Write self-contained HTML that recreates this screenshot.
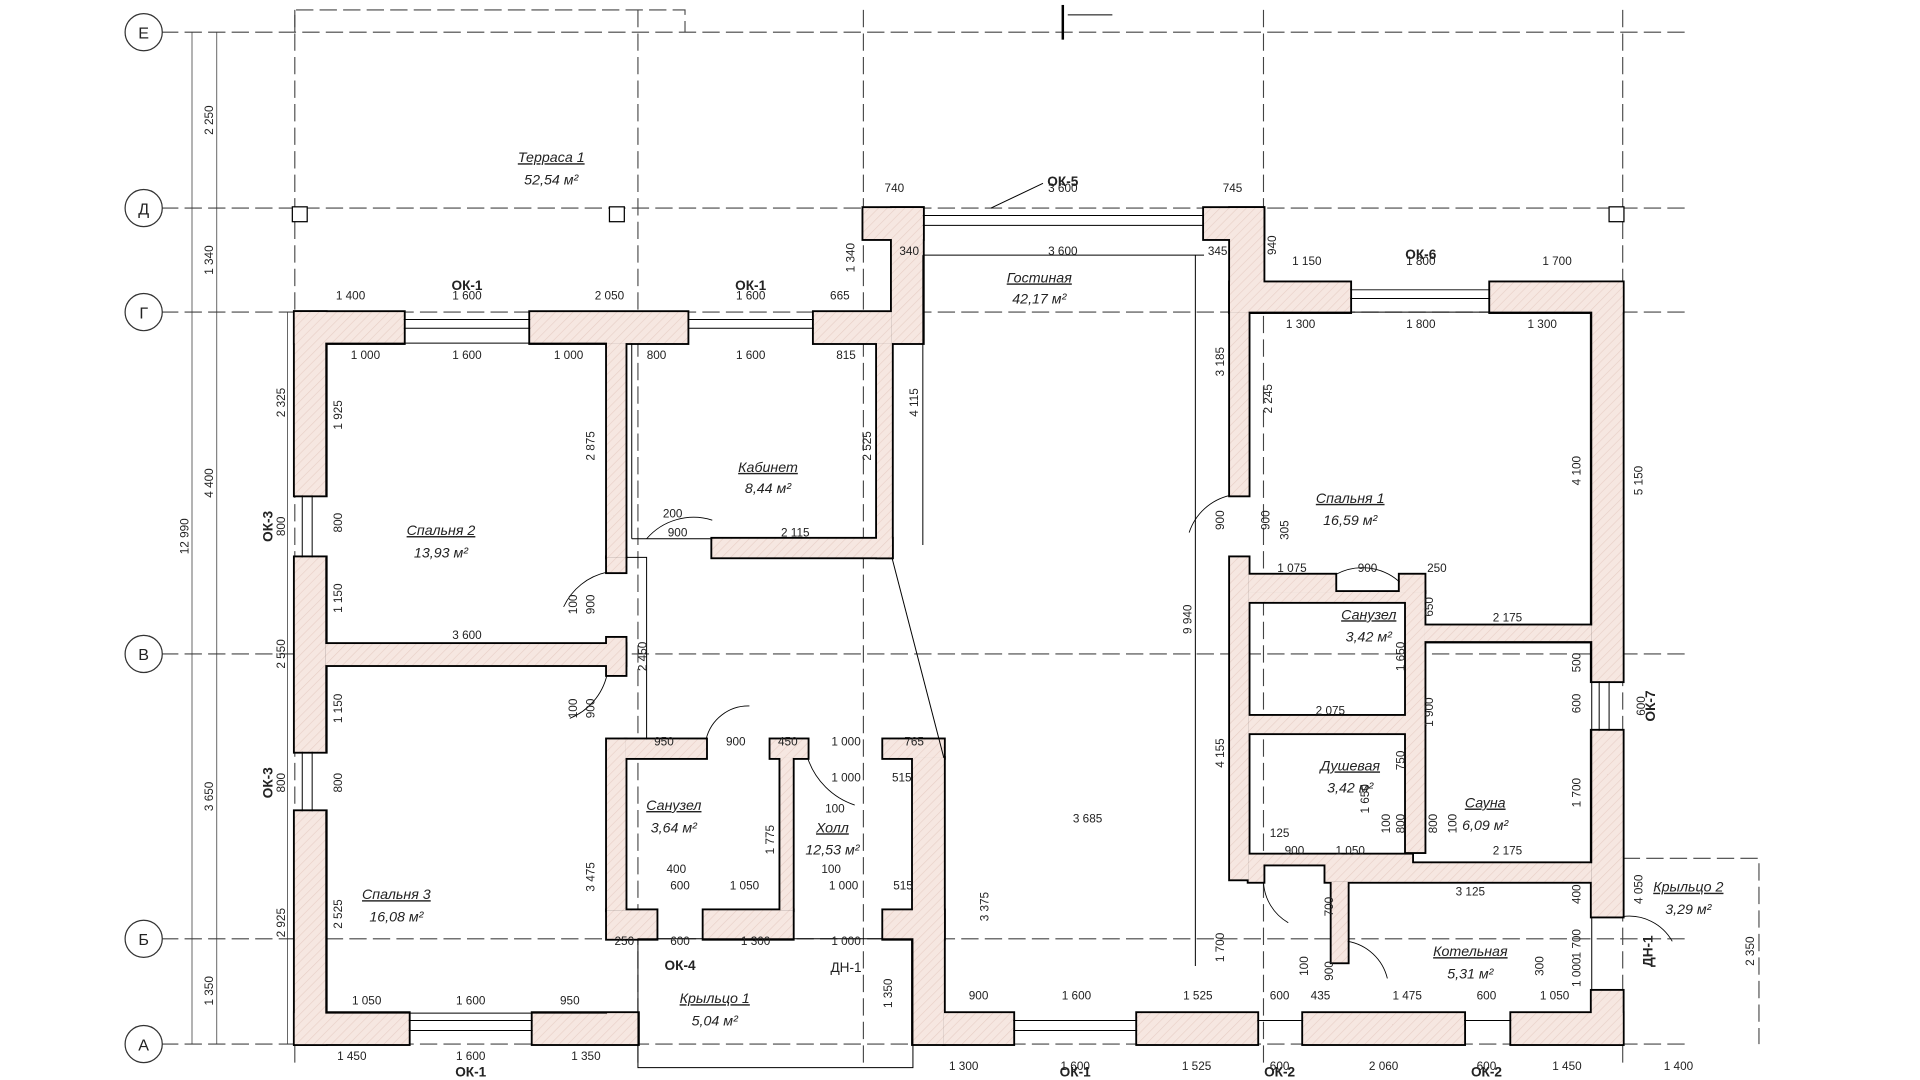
<!DOCTYPE html>
<html><head><meta charset="utf-8"><style>
html,body{margin:0;padding:0;background:#fff;}
svg{display:block}
text{font-family:"Liberation Sans",sans-serif;fill:#222;}
.d{font-size:9.5px;}
.r{font-size:11.5px;font-style:italic;}
.ax{stroke:#444;stroke-width:0.9;stroke-dasharray:14 5;fill:none}
.dm{stroke:#333;stroke-width:0.6;fill:none}
.th{stroke:#000;stroke-width:0.8;fill:none}
.b{font-size:11px;font-weight:bold;}
</style></head><body>
<svg width="1920" height="1080" viewBox="0 0 1550 872" preserveAspectRatio="none" xmlns="http://www.w3.org/2000/svg">
<defs>
<pattern id="h" width="5" height="5" patternUnits="userSpaceOnUse" patternTransform="rotate(45)"><rect width="5" height="5" fill="#f6e7e1"/><line x1="0" y1="0" x2="0" y2="5" stroke="#e8cfc6" stroke-width="1"/></pattern>
<g id="walls">
<rect x="238" y="252" width="25" height="148"/><rect x="238" y="450" width="25" height="157"/><rect x="238" y="655" width="25" height="188"/>
<rect x="238" y="252" width="88" height="25"/><rect x="428" y="252" width="127" height="25"/><rect x="657" y="252" width="63" height="25"/>
<rect x="697" y="168" width="48" height="25"/><rect x="720" y="168" width="25" height="109"/><rect x="708" y="277" width="12" height="173"/>
<rect x="575" y="435" width="145" height="15"/>
<rect x="263" y="520" width="242" height="17"/>
<rect x="490" y="277" width="15" height="173"/><rect x="490" y="450" width="15" height="12"/><rect x="490" y="515" width="15" height="30"/><rect x="490" y="597" width="15" height="138"/>
<rect x="238" y="818" width="92" height="25"/><rect x="430" y="818" width="85" height="25"/>
<rect x="490" y="735" width="40" height="23"/><rect x="568" y="735" width="72" height="23"/>
<rect x="505" y="597" width="65" height="15"/><rect x="622" y="597" width="30" height="15"/><rect x="713" y="597" width="49" height="15"/>
<rect x="630" y="612" width="10" height="123"/>
<rect x="713" y="735" width="49" height="23"/><rect x="737" y="612" width="25" height="231"/>
<rect x="972" y="168" width="48" height="25"/><rect x="993" y="168" width="27" height="84"/>
<rect x="993" y="228" width="97" height="24"/><rect x="1203" y="228" width="107" height="24"/>
<rect x="1285" y="228" width="25" height="322"/><rect x="1285" y="590" width="25" height="150"/><rect x="1285" y="800" width="25" height="43"/>
<rect x="993" y="252" width="15" height="148"/><rect x="993" y="450" width="15" height="260"/>
<rect x="1008" y="464" width="70" height="14"/><rect x="1130" y="464" width="20" height="14"/>
<rect x="1008" y="478" width="132" height="8"/><rect x="1008" y="578" width="132" height="14"/><rect x="1008" y="690" width="132" height="8"/>
<rect x="1135" y="478" width="15" height="210"/><rect x="1150" y="505" width="135" height="13"/>
<rect x="1008" y="697" width="12" height="15"/><rect x="1070" y="697" width="215" height="15"/>
<rect x="1075" y="712" width="13" height="65"/>
<rect x="762" y="818" width="56" height="25"/><rect x="918" y="818" width="97" height="25"/><rect x="1052" y="818" width="130" height="25"/><rect x="1220" y="818" width="90" height="25"/>
</g>
</defs>
<rect width="1550" height="872" fill="#fff"/>
<g class="ax">
<line x1="130" y1="26" x2="1360" y2="26"/>
<line x1="130" y1="168" x2="1360" y2="168"/>
<line x1="130" y1="252" x2="1360" y2="252"/>
<line x1="130" y1="528" x2="1360" y2="528"/>
<line x1="130" y1="758" x2="1360" y2="758"/>
<line x1="130" y1="843" x2="1360" y2="843"/>
<line x1="238" y1="8" x2="238" y2="860"/>
<line x1="515" y1="8" x2="515" y2="860"/>
<line x1="697" y1="8" x2="697" y2="860"/>
<line x1="1020" y1="8" x2="1020" y2="860"/>
<line x1="1310" y1="8" x2="1310" y2="860"/>
<path d="M238 26 V8 H553 V26"/>
<path d="M1310 693 H1420 V843"/>
</g>
<g fill="#fff" stroke="#333" stroke-width="1">
<circle cx="116" cy="26" r="15"/><circle cx="116" cy="168" r="15"/><circle cx="116" cy="252" r="15"/>
<circle cx="116" cy="528" r="15"/><circle cx="116" cy="758" r="15"/><circle cx="116" cy="843" r="15"/>
</g>
<g font-size="13" text-anchor="middle">
<text x="116" y="31">Е</text><text x="116" y="173">Д</text><text x="116" y="257">Г</text>
<text x="116" y="533">В</text><text x="116" y="763">Б</text><text x="116" y="848">А</text>
</g>
<g fill="#fff" stroke="#000" stroke-width="1"><rect x="236" y="167" width="12" height="12"/><rect x="492" y="167" width="12" height="12"/><rect x="1299" y="167" width="12" height="12"/></g>
<line x1="858" y1="4" x2="858" y2="32" stroke="#000" stroke-width="2"/><line x1="862" y1="12" x2="898" y2="12" stroke="#000" stroke-width="0.8"/>
<g class="dm"><line x1="155" y1="26" x2="155" y2="843"/><line x1="175" y1="26" x2="175" y2="843"/><line x1="232" y1="252" x2="232" y2="843"/></g>
<g class="d" text-anchor="middle">
<text transform="translate(172,97) rotate(-90)">2 250</text>
<text transform="translate(172,210) rotate(-90)">1 340</text>
<text transform="translate(172,390) rotate(-90)">4 400</text>
<text transform="translate(152,433) rotate(-90)">12 990</text>
<text transform="translate(172,643) rotate(-90)">3 650</text>
<text transform="translate(172,800) rotate(-90)">1 350</text>
<text transform="translate(230,325) rotate(-90)">2 325</text>
<text transform="translate(230,425) rotate(-90)">800</text>
<text transform="translate(230,528) rotate(-90)">2 550</text>
<text transform="translate(230,632) rotate(-90)">800</text>
<text transform="translate(230,745) rotate(-90)">2 925</text>
</g>
<!-- walls: outline layer then fill layer -->
<use href="#walls" fill="#000" stroke="#000" stroke-width="3"/>
<use href="#walls" fill="url(#h)" stroke="none"/>
<g class="th" stroke-width="2.2">
<path d="M263 400 V277 H490"/><path d="M263 450 V520"/><path d="M263 537 V607"/><path d="M263 655 V818 H490"/>
<path d="M1008 252 H1285 V505"/><path d="M1150 518 H1285 V697"/>
</g>
<g class="th" stroke-width="0.7">
<path d="M326 258 H428 M326 265 H428 M555 258 H657 M555 265 H657"/>
<path d="M745 174 H972 M745 182 H972"/>
<path d="M1090 234 H1203 M1090 241 H1203"/>
<path d="M244 400 V450 M252 400 V450 M244 607 V655 M252 607 V655"/>
<path d="M1291 550 V590 M1299 550 V590"/>
<path d="M330 824 H430 M330 832 H430 M818 824 H918 M818 832 H918 M1015 824 H1052 M1182 824 H1220"/>
<path d="M515 758 H737 V862 H515 Z"/>
<path d="M720 450 L762 612"/>
<path d="M1285 740 V800"/>
<path d="M800 168 L842 148 M745 206 H972 M745 206 V440 M965 206 V780"/>
<path d="M505 450 H522 V597 M510 277 V435 M510 435 H575"/>
</g>
<g fill="none" stroke="#000" stroke-width="0.7">
<path d="M490 462 A50 50 0 0 0 455 490"/><path d="M490 545 A50 50 0 0 1 460 580"/>
<path d="M570 597 A35 35 0 0 1 605 570"/><path d="M522 435 A50 50 0 0 1 575 420"/>
<path d="M993 400 A45 45 0 0 0 960 430"/><path d="M1078 464 A45 45 0 0 1 1130 470"/>
<path d="M1020 712 A40 40 0 0 0 1040 745"/><path d="M1088 760 A40 40 0 0 1 1120 790"/>
<path d="M1310 740 A40 40 0 0 1 1350 760"/>
<path d="M652 612 A60 60 0 0 0 690 650"/>
</g>
<g class="d" text-anchor="middle">
<text x="283" y="242">1 400</text><text x="377" y="242">1 600</text><text x="492" y="242">2 050</text><text x="606" y="242">1 600</text><text x="678" y="242">665</text>
<text x="295" y="290">1 000</text><text x="377" y="290">1 600</text><text x="459" y="290">1 000</text>
<text x="530" y="290">800</text><text x="606" y="290">1 600</text><text x="683" y="290">815</text>
<text x="722" y="155">740</text><text x="858" y="155">3 600</text><text x="995" y="155">745</text>
<text x="734" y="206">340</text><text x="858" y="206">3 600</text><text x="983" y="206">345</text>
<text x="1055" y="214">1 150</text><text x="1147" y="214">1 800</text><text x="1257" y="214">1 700</text>
<text x="1050" y="265">1 300</text><text x="1147" y="265">1 800</text><text x="1245" y="265">1 300</text>
<text x="543" y="418">200</text><text x="547" y="433">900</text><text x="642" y="433">2 115</text>
<text x="377" y="516">3 600</text>
<text x="1043" y="462">1 075</text><text x="1104" y="462">900</text><text x="1160" y="462">250</text>
<text x="1217" y="502">2 175</text><text x="1074" y="577">2 075</text>
<text x="536" y="602">950</text><text x="594" y="602">900</text><text x="636" y="602">450</text><text x="683" y="602">1 000</text><text x="738" y="602">765</text>
<text x="683" y="631">1 000</text><text x="728" y="631">515</text><text x="674" y="656">100</text>
<text x="878" y="664">3 685</text>
<text x="546" y="705">400</text><text x="671" y="705">100</text>
<text x="549" y="718">600</text><text x="601" y="718">1 050</text><text x="681" y="718">1 000</text><text x="729" y="718">515</text>
<text x="1033" y="676">125</text><text x="1045" y="690">900</text><text x="1090" y="690">1 050</text><text x="1217" y="690">2 175</text>
<text x="1187" y="723">3 125</text>
<text x="504" y="763">250</text><text x="549" y="763">600</text><text x="610" y="763">1 300</text><text x="683" y="763">1 000</text>
<text x="296" y="811">1 050</text><text x="380" y="811">1 600</text><text x="460" y="811">950</text>
<text x="790" y="807">900</text><text x="869" y="807">1 600</text><text x="967" y="807">1 525</text><text x="1033" y="807">600</text><text x="1066" y="807">435</text><text x="1136" y="807">1 475</text><text x="1200" y="807">600</text><text x="1255" y="807">1 050</text>
<text x="284" y="856">1 450</text><text x="380" y="856">1 600</text><text x="473" y="856">1 350</text>
<text x="778" y="864">1 300</text><text x="868" y="864">1 600</text><text x="966" y="864">1 525</text><text x="1033" y="864">600</text><text x="1117" y="864">2 060</text><text x="1200" y="864">600</text><text x="1265" y="864">1 450</text><text x="1355" y="864">1 400</text>
</g>
<g class="d" text-anchor="middle">
<text transform="translate(276,335) rotate(-90)">1 925</text><text transform="translate(276,422) rotate(-90)">800</text><text transform="translate(276,483) rotate(-90)">1 150</text>
<text transform="translate(276,572) rotate(-90)">1 150</text><text transform="translate(276,632) rotate(-90)">800</text><text transform="translate(276,738) rotate(-90)">2 525</text>
<text transform="translate(480,360) rotate(-90)">2 875</text><text transform="translate(480,708) rotate(-90)">3 475</text>
<text transform="translate(466,488) rotate(-90)">100</text><text transform="translate(480,488) rotate(-90)">900</text>
<text transform="translate(466,572) rotate(-90)">100</text><text transform="translate(480,572) rotate(-90)">900</text>
<text transform="translate(522,530) rotate(-90)">2 450</text>
<text transform="translate(690,208) rotate(-90)">1 340</text><text transform="translate(741,325) rotate(-90)">4 115</text><text transform="translate(703,360) rotate(-90)">2 525</text>
<text transform="translate(625,678) rotate(-90)">1 775</text><text transform="translate(798,732) rotate(-90)">3 375</text><text transform="translate(720,802) rotate(-90)">1 350</text>
<text transform="translate(962,500) rotate(-90)">9 940</text><text transform="translate(988,292) rotate(-90)">3 185</text><text transform="translate(1027,322) rotate(-90)">2 245</text>
<text transform="translate(988,420) rotate(-90)">900</text><text transform="translate(1025,420) rotate(-90)">900</text><text transform="translate(1040,428) rotate(-90)">305</text>
<text transform="translate(1030,198) rotate(-90)">940</text><text transform="translate(988,608) rotate(-90)">4 155</text><text transform="translate(988,765) rotate(-90)">1 700</text>
<text transform="translate(1276,380) rotate(-90)">4 100</text><text transform="translate(1326,388) rotate(-90)">5 150</text>
<text transform="translate(1157,490) rotate(-90)">650</text><text transform="translate(1134,530) rotate(-90)">1 650</text><text transform="translate(1276,535) rotate(-90)">500</text>
<text transform="translate(1276,568) rotate(-90)">600</text><text transform="translate(1328,570) rotate(-90)">600</text><text transform="translate(1157,575) rotate(-90)">1 900</text>
<text transform="translate(1134,614) rotate(-90)">750</text><text transform="translate(1105,645) rotate(-90)">1 650</text><text transform="translate(1276,640) rotate(-90)">1 700</text>
<text transform="translate(1122,665) rotate(-90)">100</text><text transform="translate(1134,665) rotate(-90)">800</text><text transform="translate(1160,665) rotate(-90)">800</text><text transform="translate(1176,665) rotate(-90)">100</text>
<text transform="translate(1076,732) rotate(-90)">700</text><text transform="translate(1056,780) rotate(-90)">100</text><text transform="translate(1076,784) rotate(-90)">900</text>
<text transform="translate(1276,722) rotate(-90)">400</text><text transform="translate(1276,762) rotate(-90)">1 700</text><text transform="translate(1276,785) rotate(-90)">1 000</text><text transform="translate(1246,780) rotate(-90)">300</text>
<text transform="translate(1326,718) rotate(-90)">4 050</text><text transform="translate(1416,768) rotate(-90)">2 350</text>
</g>
<g class="b" text-anchor="middle">
<text x="377" y="234">ОК-1</text><text x="606" y="234">ОК-1</text><text x="858" y="150">ОК-5</text><text x="1147" y="209">ОК-6</text>
<text transform="translate(220,425) rotate(-90)">ОК-3</text><text transform="translate(220,632) rotate(-90)">ОК-3</text>
<text transform="translate(1336,570) rotate(-90)">ОК-7</text><text transform="translate(1334,768) rotate(-90)">ДН-1</text>
<text x="549" y="783">ОК-4</text><text x="380" y="869">ОК-1</text><text x="868" y="869">ОК-1</text><text x="1033" y="869">ОК-2</text><text x="1200" y="869">ОК-2</text>
</g>
<text x="683" y="785" font-size="11" text-anchor="middle">ДН-1</text>
<g class="r" text-anchor="middle">
<text x="445" y="131" text-decoration="underline">Терраса 1</text><text x="445" y="149">52,54 м²</text>
<text x="839" y="228" text-decoration="underline">Гостиная</text><text x="839" y="245">42,17 м²</text>
<text x="620" y="381" text-decoration="underline">Кабинет</text><text x="620" y="398">8,44 м²</text>
<text x="356" y="432" text-decoration="underline">Спальня 2</text><text x="356" y="450">13,93 м²</text>
<text x="1090" y="406" text-decoration="underline">Спальня 1</text><text x="1090" y="424">16,59 м²</text>
<text x="1105" y="500" text-decoration="underline">Санузел</text><text x="1105" y="518">3,42 м²</text>
<text x="1090" y="622" text-decoration="underline">Душевая</text><text x="1090" y="640">3,42 м²</text>
<text x="1199" y="652" text-decoration="underline">Сауна</text><text x="1199" y="670">6,09 м²</text>
<text x="544" y="654" text-decoration="underline">Санузел</text><text x="544" y="672">3,64 м²</text>
<text x="672" y="672" text-decoration="underline">Холл</text><text x="672" y="690">12,53 м²</text>
<text x="320" y="726" text-decoration="underline">Спальня 3</text><text x="320" y="744">16,08 м²</text>
<text x="1187" y="772" text-decoration="underline">Котельная</text><text x="1187" y="790">5,31 м²</text>
<text x="1363" y="720" text-decoration="underline">Крыльцо 2</text><text x="1363" y="738">3,29 м²</text>
<text x="577" y="810" text-decoration="underline">Крыльцо 1</text><text x="577" y="828">5,04 м²</text>
</g>
</svg>
</body></html>
